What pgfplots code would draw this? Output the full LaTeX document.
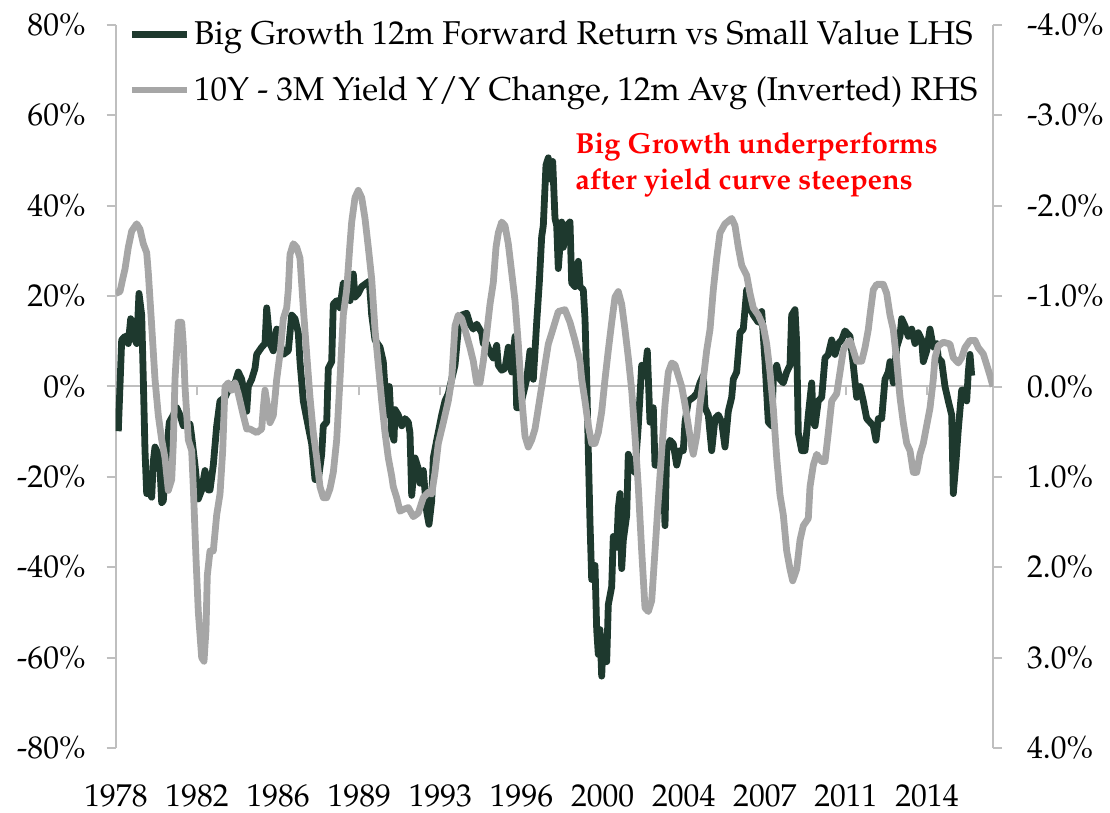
\documentclass[border=0pt]{standalone}
\usepackage[T1]{fontenc}
\usepackage{mathpazo}
\usepackage{pgfplots}
\pgfplotsset{compat=1.18}
\definecolor{darkg}{RGB}{30,57,46}
\definecolor{lgray}{RGB}{166,166,166}
\definecolor{axgray}{RGB}{191,191,191}
\begin{document}
\begin{tikzpicture}
\useasboundingbox (-57.85pt,-32.5pt) rectangle (497.15pt,374pt);
\pgfplotsset{
  base/.style={scale only axis, width=438.65pt, height=361.5pt, xmin=-2.3, xmax=875,
   xtick={-2,79.1,160.2,241.3,322.4,403.5,484.6,565.7,646.8,727.9,809},
   tick align=outside, major tick length=4.5pt,
   axis line style={axgray, line width=1pt, -},
   major tick style={axgray, line width=1pt},
   tick label style={font=\fontsize{15.8}{19}\selectfont, text=black},
  }
}
\begin{axis}[base, axis y line*=left, axis x line*=middle,
  ymin=-80, ymax=80, ytick={-80,-60,...,80},
  yticklabels={-80\%,-60\%,-40\%,-20\%,0\%,20\%,40\%,60\%,80\%},
  yticklabel style={xshift=-7pt},
  xticklabels={},
  legend style={at={(0.014,1.012)}, anchor=north west, draw=none, fill=none,
    font=\fontsize{16.5}{19}\selectfont, row sep=10.5pt, inner sep=0pt, nodes={inner sep=2pt}},
  legend cell align=left,
  legend image code/.code={\draw[#1] (0pt,0pt) -- (27.5pt,0pt);}]
\addplot[darkg, line width=3.4pt, line join=round] coordinates {
(0.3,-9.9) (3.7,10.3) (7,11.1) (10.3,9.5) (12.7,15.0) (15.3,11.1) (18.7,9.5) (21,20.6) (23.7,15.8) (25.3,1.6) (27,-14.2) (28.7,-23.7) (32,-23.7) (33.7,-24.5) (35.3,-16.6) (37,-13.4) (40.3,-15.0) (42,-18.2) (43.7,-25.7) (45.3,-25.3) (48.7,-14.2) (51.3,-7.9) (55.3,-6.3) (58.7,-4.7) (62,-6.3) (65.3,-8.7) (72,-8.3) (73.7,-11.1) (77,-17.4) (80.3,-24.9) (83.7,-22.9) (87,-18.6) (90.3,-22.9) (92,-22.9) (95.3,-17.4) (98.7,-8.7) (102,-3.2) (107,-2.4) (112,0) (117,0.8) (120.3,3.2) (123.7,1.6) (127,-2.4) (128.7,-5.5) (130.3,0) (133.7,1.6) (137,4.0) (138.7,7.1) (143.7,8.7) (147,9.5) (148.7,17.4) (152,9.5) (155.3,7.9) (158.7,12.7) (162,9.5) (165.3,7.1) (170.3,7.9) (173.7,15.8) (177,15.0) (180.3,11.9) (182,5.5) (185.3,-3.2) (188.7,-7.1) (193.7,-12.7) (197,-20.6) (200.3,-20.6) (203.7,-15.0) (205.3,-8.7) (208.7,-7.9) (210.3,4.0) (213.7,5.5) (215.3,18.2) (218.7,19.0) (222,17.4) (225.3,22.9) (228.7,22.1) (232,19.0) (235.3,24.9) (237,19.8) (240.3,20.6) (243.7,22.1) (248.7,22.9) (251.3,23.3) (253.7,15.8) (257,10.3) (262,8.7) (265.3,5.5) (268.7,-6.3) (271.3,0) (273.7,-10.3) (276,-11.9) (277,-5.1) (280.3,-6.3) (283.7,-8.7) (287,-7.1) (290.3,-7.9) (292,-10.3) (293.7,-24.1) (297,-15.8) (300.3,-18.2) (302,-21.4) (305.3,-18.6) (308.7,-27.7) (311,-30.5) (313.7,-25.3) (315.3,-15.8) (318.7,-11.9) (323.7,-6.3) (327,-3.2) (330.3,-1.6) (333.7,1.6) (337,4.7) (340.3,12.7) (343.7,15.8) (348.7,16.2) (352,13.8) (355.3,12.7) (358.7,13.8) (363.7,11.9) (365.3,9.5) (368.7,9.5) (372,7.5) (375.3,6.3) (378.7,9.1) (380.3,4.7) (383.7,3.6) (387,4.0) (390.3,8.7) (393.7,3.2) (397,11.1) (398.7,-4.7) (402,-4.7) (405.3,-1.6) (408.7,1.6) (412,7.9) (415.3,1.6) (418.7,14.2) (421.3,22.9) (423.7,33.2) (425.3,35.6) (428,49.0) (430.3,50.6) (432,45.9) (434.7,49.8) (437,37.2) (438.7,35.6) (440.3,26.1) (443.7,36.4) (445.3,30.8) (448.7,35.6) (452,36.4) (453.7,22.9) (457,22.1) (460.3,27.7) (462,22.1) (465.3,21.4) (467,15.0) (468.7,1.6) (470.3,-14.2) (472,-30.1) (473.7,-42.7) (477,-39.6) (478.7,-53.8) (480.3,-59.3) (482,-53.8) (483.7,-64.1) (485.3,-55.4) (488.7,-60.9) (490.3,-48.3) (493.7,-44.3) (495.3,-33.2) (498.7,-35.6) (500.3,-26.9) (502,-23.7) (503.7,-40.3) (505.3,-34.0) (508.7,-28.5) (510.3,-15.0) (513.7,-18.2) (517,-19.0) (520.3,-8.7) (523.7,4.7) (527,2.4) (529.3,7.9) (532,-7.9) (535.3,-4.7) (537,-17.4) (542,-17.4) (545.3,-18.2) (547,-30.8) (548.7,-14.2) (552,-11.9) (555.3,-12.7) (558.7,-17.4) (562,-14.2) (565.3,-14.2) (567,-7.9) (570.3,-3.2) (575.3,-2.4) (578.7,-1.6) (582,0.8) (585.3,2.4) (587,-4.7) (590.3,-6.3) (593.7,-14.2) (597,-7.1) (600.3,-6.3) (603.7,-7.9) (607,-13.4) (610.3,-5.5) (613.7,-2.4) (615.3,1.6) (618.7,3.2) (622,11.9) (625.3,12.7) (628.7,21.4) (632,17.4) (635.3,15.8) (640.3,14.2) (643.7,16.6) (647,5.5) (650.3,-7.9) (653.7,-8.7) (655.3,1.6) (658.7,4.7) (662,1.6) (665.3,0.8) (668.7,3.2) (672,4.7) (673.7,15.8) (677,17.0) (678.7,9.5) (680.3,-10.3) (683.7,-14.2) (687,-14.2) (690.3,-6.3) (693.7,0.8) (695.3,-7.9) (697,-8.7) (700.3,-3.2) (703.7,-2.4) (707,6.3) (710.3,7.1) (713.7,10.3) (717,7.1) (720.3,9.5) (723.7,10.3) (727,12.3) (732,11.1) (735.3,4.7) (738.7,-2.4) (742,0) (745.3,-3.2) (748.7,-7.1) (752,-7.9) (755.3,-8.7) (758,-11.9) (760.3,-7.1) (763.7,-7.1) (767,1.6) (770.3,3.2) (772,5.5) (775.3,0.8) (778.7,8.7) (782,11.1) (783.7,15.0) (787,13.4) (790.3,11.1) (793.7,12.7) (797,9.5) (800.3,11.9) (803.7,10.3) (805.3,5.5) (808.7,7.9) (812,12.7) (815.3,8.7) (818.7,9.5) (820.3,6.3) (823.7,5.5) (827,0) (830.3,-3.2) (833.7,-6.3) (835.3,-23.7) (838,-16.6) (840.3,-9.5) (843.7,-0.8) (847,-0.8) (848.7,-3.2) (850.3,3.2) (852,7.1) (853.7,2.4)
};
\addlegendentry{Big Growth 12m Forward Return vs Small Value LHS}
\addlegendimage{lgray, line width=3.4pt}
\addlegendentry{10Y - 3M Yield Y/Y Change, 12m Avg (Inverted) RHS}
\end{axis}
\begin{axis}[base, axis y line*=right, axis x line*=bottom,
  x axis line style={draw=none}, xtick style={draw=none},
  ymin=-4, ymax=4, y dir=reverse, ytick={-4,-3,...,4},
  yticklabels={-4.0\%,-3.0\%,-2.0\%,-1.0\%,0.0\%,1.0\%,2.0\%,3.0\%,4.0\%},
  yticklabel style={xshift=9pt},
  xticklabels={1978,1982,1986,1989,1993,1996,2000,2004,2007,2011,2014},
  xticklabel style={yshift=-10.5pt}]
\addplot[lgray, line width=3.4pt, line join=round] coordinates {
(-2.3,-1.03) (2,-1.05) (4.7,-1.19) (7,-1.30) (10.3,-1.54) (13.7,-1.72) (18.7,-1.80) (22,-1.74) (25.3,-1.58) (28.7,-1.48) (30.3,-1.26) (33.7,-0.67) (37,-0.08) (40.3,0.32) (43.7,0.59) (47,0.79) (50.3,1.15) (53.7,1.03) (55.3,0.63) (57,-0.08) (60.3,-0.71) (63.7,-0.71) (65.3,-0.47) (67,0) (70.3,0.59) (73.7,0.71) (75.3,1.11) (78,1.90) (80.3,2.49) (83.7,3.00) (86,3.04) (88,2.69) (89.3,2.09) (92,1.82) (95.3,1.82) (98.7,1.42) (102,1.19) (104.7,0.71) (107,0) (110.3,-0.04) (113.7,0.04) (117,-0.04) (120.3,0.08) (125.3,0.32) (128.7,0.47) (132,0.47) (138.7,0.51) (143.7,0.47) (145.3,0.24) (147,0.04) (148.7,0.16) (152,0.40) (155.3,0.32) (158.7,-0.08) (162,-0.36) (165.3,-0.75) (168.7,-0.87) (170.3,-1.07) (172,-1.46) (175.3,-1.58) (178.7,-1.54) (182,-1.42) (185.3,-0.87) (188.7,-0.36) (192,0.12) (195.3,0.51) (198.7,0.79) (202,1.11) (205.3,1.23) (208.7,1.23) (212,1.13) (215.3,0.95) (218.7,0.59) (222,-0.08) (225.3,-0.79) (228.7,-1.07) (232,-1.58) (233.7,-1.82) (237,-2.09) (240.3,-2.17) (243.7,-2.09) (247,-1.86) (250.3,-1.54) (253.7,-1.19) (257,-0.63) (260.3,-0.24) (263.7,0.16) (267,0.51) (270.3,0.79) (273.7,0.99) (275.3,1.11) (278.7,1.23) (282,1.38) (285.3,1.36) (290.3,1.34) (295.3,1.44) (300.3,1.40) (305.3,1.23) (310.3,1.17) (313.7,1.19) (317,0.95) (320.3,0.63) (325.3,0.40) (330.3,0.16) (333.7,-0.08) (337,-0.67) (340.3,-0.79) (343.7,-0.75) (347,-0.63) (352,-0.43) (355.3,-0.28) (358.7,-0.04) (362,-0.04) (365.3,-0.28) (368.7,-0.59) (372,-0.91) (375.3,-1.15) (378,-1.54) (380.3,-1.70) (383.7,-1.82) (387,-1.78) (390.3,-1.58) (393.7,-1.26) (397,-0.95) (400.3,-0.47) (403.7,0.12) (407,0.55) (410.3,0.67) (413.7,0.59) (417,0.47) (420.3,0.24) (423.7,0) (427,-0.24) (430.3,-0.47) (433.7,-0.59) (437,-0.71) (440.3,-0.83) (447,-0.85) (452,-0.71) (457,-0.51) (462,-0.28) (463.7,-0.08) (467,0.16) (470.3,0.43) (473.7,0.63) (477,0.63) (480.3,0.51) (483.7,0.28) (487,-0.08) (490.3,-0.40) (493.7,-0.71) (497,-0.99) (500.3,-1.05) (503.7,-0.91) (507,-0.63) (510.3,-0.32) (513.7,0.04) (517,0.55) (520.3,1.11) (523.7,1.82) (527,2.45) (530.3,2.49) (533.7,2.37) (537,1.82) (540.3,1.26) (543.7,0.71) (547,0.20) (550.3,-0.16) (553.7,-0.26) (557,-0.24) (560.3,-0.12) (563.7,0) (567,0.20) (570.3,0.43) (573.7,0.67) (575.3,0.75) (578.7,0.55) (582,0.20) (585.3,-0.08) (588.7,-0.40) (592,-0.63) (595.3,-1.07) (598.7,-1.42) (602,-1.70) (607,-1.80) (613.7,-1.86) (617,-1.78) (620.3,-1.54) (623.7,-1.34) (628.7,-1.23) (632,-1.03) (635.3,-0.87) (640.3,-0.79) (645.3,-0.67) (648.7,-0.47) (652,-0.16) (655.3,0.24) (658.7,0.79) (662,1.20) (665.3,1.42) (668.7,1.82) (672,2.02) (674.7,2.15) (678.7,2.02) (682,1.70) (685.3,1.54) (690.3,1.46) (692,1.11) (695.3,0.87) (698.7,0.75) (703.7,0.83) (707,0.83) (710.3,0.51) (713.7,0.16) (718.7,0.08) (722,-0.16) (725.3,-0.40) (728.7,-0.47) (732,-0.51) (735.3,-0.40) (738.7,-0.28) (743.7,-0.28) (747,-0.43) (750.3,-0.63) (752,-0.79) (755.3,-1.07) (758.7,-1.13) (765.3,-1.13) (768.7,-1.03) (772,-0.79) (775.3,-0.63) (778.7,-0.28) (782,0.12) (785.3,0.40) (788.7,0.63) (792,0.71) (795.3,0.95) (798.7,0.95) (802,0.75) (805.3,0.63) (808.7,0.43) (812,0.24) (815.3,-0.08) (817,-0.32) (820.3,-0.45) (825.3,-0.49) (832,-0.47) (835.3,-0.32) (840.3,-0.26) (843.7,-0.32) (847,-0.43) (852,-0.51) (857,-0.51) (860.3,-0.43) (865.3,-0.36) (868.7,-0.24) (872,-0.12) (875,0)
};
\end{axis}
\node[anchor=north west, align=left, inner sep=0pt, text=red,
  font=\fontsize{14.5}{18}\selectfont\bfseries] at (229.65pt,308pt)
  {Big Growth underperforms\\after yield curve steepens};
\end{tikzpicture}
\end{document}
